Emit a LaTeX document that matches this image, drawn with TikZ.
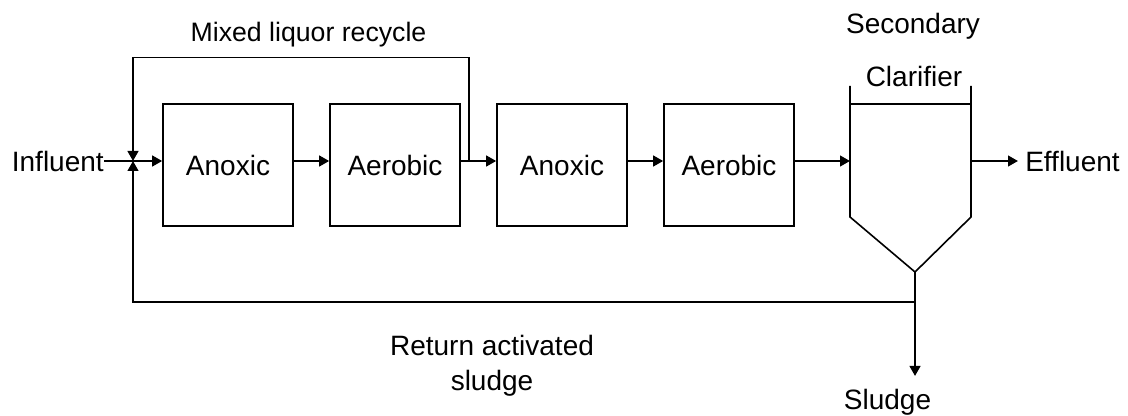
\documentclass[tikz,border=0pt]{standalone}
\usepackage{fontspec}
\setmainfont{Liberation Sans}
\usetikzlibrary{arrows.meta}

\begin{document}
\begin{tikzpicture}[x=0.75pt, y=-0.75pt,
    reactor/.style={draw=black, line width=1.2pt, rectangle, minimum width=97.5pt, minimum height=91.5pt, inner sep=0pt, font=\fontsize{21}{25}\selectfont},
    flow/.style={-{Triangle[length=7.5pt,width=8pt]}, line width=1.6pt},
    pipe/.style={line width=1.6pt},
    thinpipe/.style={line width=1pt},
    flowtext/.style={inner sep=0pt, font=\fontsize{21}{26.25}\selectfont}]
  \useasboundingbox (0,0) rectangle (1128,416);
  % reactors
  \node[reactor] (anoxicA) at (228,165) {Anoxic};
  \node[reactor] (aerobicA) at (395,165) {Aerobic};
  \node[reactor] (anoxicB) at (562,165) {Anoxic};
  \node[reactor] (aerobicB) at (729,165) {Aerobic};
  % secondary clarifier
  \coordinate (clarIn) at (850,161);
  \coordinate (clarOut) at (971,161);
  \coordinate (cone) at (915,272);
  \draw[line width=1.2pt] (850,86) -- (850,217) -- (cone) -- (971,217) -- (971,86);
  \draw[line width=1.2pt] (850,104) -- (971,104);
  \node[flowtext, anchor=base] (secondary) at (913,34) {Secondary};
  \node[flowtext, anchor=base] (clarifier) at (914,87) {Clarifier};
  % streams
  \node[flowtext, anchor=east] (influent) at (104,161) {Influent};
  \node[flowtext, anchor=west, inner xsep=5.25pt] (effluent) at (1018,161) {Effluent};
  \node[flowtext, anchor=base] (sludge) at (887.5,410) {Sludge};
  \coordinate (mix) at (133,161);
  \coordinate (split) at (469,161);
  \coordinate (recTop) at (469,57.5);
  \coordinate (recLeft) at (133,57.5);
  \coordinate (ras) at (915,302);
  \coordinate (rasLeft) at (133,302);
  \coordinate (wasEnd) at (915,376);
  \draw[flow] (influent.east) -- (anoxicA.west |- mix);
  \draw[flow] (anoxicA.east |- mix) -- (aerobicA.west |- mix);
  \draw[flow] (aerobicA.east |- mix) -- (anoxicB.west |- mix);
  \draw[flow] (anoxicB.east |- mix) -- (aerobicB.west |- mix);
  \draw[flow] (aerobicB.east |- mix) -- (clarIn);
  \draw[flow] (clarOut) -- (effluent.west);
  % mixed liquor recycle
  \draw[thinpipe] (split) -- (recTop) -- (recLeft);
  \draw[flow] (recLeft) -- (mix);
  \node[flowtext, anchor=base, font=\fontsize{20}{24}\selectfont] (recycleText) at (308.5,42) {Mixed liquor recycle};
  % return activated sludge
  \draw[flow] (ras) -- (rasLeft) -- (mix);
  \draw[flow] (cone) -- (wasEnd);
  \node[flowtext, align=center] (rasText) at (492,365.5) {Return activated\\sludge};
\end{tikzpicture}
\end{document}
